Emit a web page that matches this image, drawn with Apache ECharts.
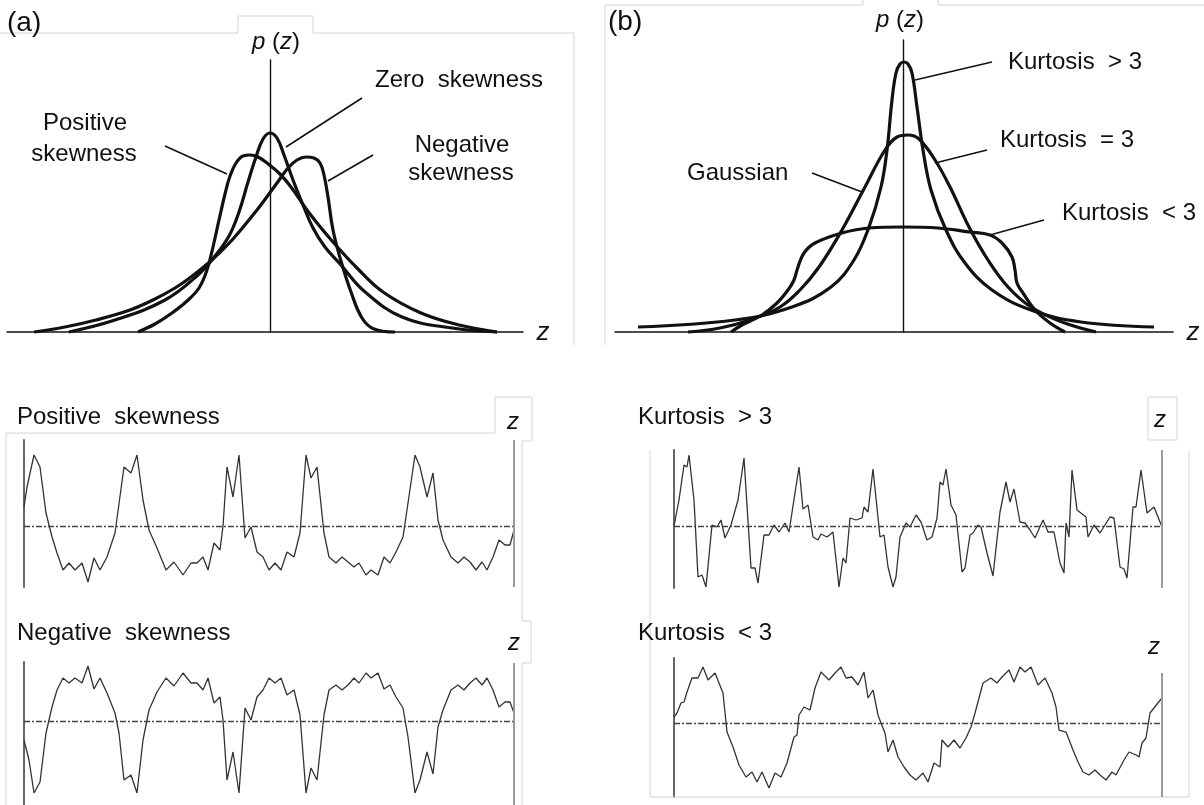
<!DOCTYPE html>
<html>
<head>
<meta charset="utf-8">
<script src="https://cdn.jsdelivr.net/npm/echarts@6.0.0/dist/echarts.min.js"></script>
<style>
  html, body { margin: 0; padding: 0; background: #ffffff; }
  #chart { width: 1204px; height: 805px; }
</style>
</head>
<body>
<div id="chart"></div>
<script>
// ---------- Panel (a): skewed densities, [z offset from the p(z) axis, p(z)] ----------
const zeroSkewPdf = [[-201,0],[-155,12],[-105,32],[-72,57],[-55,76],[-41,96],[-31,120],[-22,150],[-14,175],[-7,193],[0,199],[7,194],[14,177],[23,152],[33,127],[43,104],[55,85],[71,67],[94,41],[132,15],[182,4],[227,0]];
const positiveSkewPdf = [[-132,0],[-115,8],[-98,19],[-83,31],[-71,44],[-63,62],[-57,85],[-51,112],[-45,138],[-40,156],[-34,169],[-27,176],[-20,177],[-12,175],[-3,169],[10,158],[21,145],[40,118],[63,90],[87,64],[113,40],[151,19],[189,7],[227,0]];
const negativeSkewPdf = [[-236,0],[-205,5],[-174,12],[-140,22],[-117,32],[-95,44],[-79,55],[-57,73],[-37,93],[-13,122],[7,149],[18,164],[27,172],[36,175],[44,174],[50,169],[54,157],[58,135],[63,102],[71,71],[81,40],[92,14],[104,3],[125,0]];

// ---------- Panel (b): kurtosis densities ----------
const kurtosisHighPdf = [[-265,5],[-168,12],[-111,25],[-72,45],[-49,72],[-34,105],[-22,145],[-16,182],[-11,232],[-7,259],[-3,268],[1,270],[5,268],[9,259],[14,225],[20,182],[28,142],[43,102],[62,69],[89,42],[128,22],[178,10],[251,5]];
const gaussianPdf = [[-215,0],[-183,4],[-153,12],[-123,25],[-103,42],[-84,65],[-61,102],[-38,145],[-18,182],[-6,195],[5,197],[16,193],[32,172],[47,145],[66,105],[85,72],[105,45],[128,25],[159,10],[193,0]];
const kurtosisLowPdf = [[-172,0],[-161,7],[-141,17],[-126,29],[-115,42],[-109,52],[-105,65],[-99,79],[-88,89],[-61,99],[-34,104],[0,105],[35,104],[66,100],[87,97],[99,89],[109,75],[112,62],[114,49],[120,39],[132,22],[147,9],[162,0]];

// Leader lines joining each label to its curve
const leaderPositive = [[-105,186],[-43,158]];
const leaderZero = [[16,185],[92,234]];
const leaderNegative = [[58,151],[103,177]];
const leaderKurtHigh = [[12,252],[89,270]];
const leaderKurtEqual = [[32,169],[84,182]];
const leaderGaussian = [[-91,159],[-41,140]];
const leaderKurtLow = [[87,97],[141,112]];

// ---------- Sample records z(t) ----------
const positiveSkewSignal = [[0,19],[3,39],[10,71],[16,59],[22,13],[28,-11],[33,-27],[39,-44],[45,-37],[51,-44],[58,-37],[64,-56],[70,-32],[76,-44],[83,-31],[91,-7],[100,59],[107,53],[113,71],[119,26],[125,-4],[133,-22],[142,-44],[150,-36],[159,-49],[167,-37],[173,-37],[179,-31],[184,-44],[190,-17],[196,-24],[199,0],[203,59],[209,29],[215,71],[221,-12],[227,-1],[233,-26],[239,-31],[245,-44],[251,-37],[257,-44],[263,-26],[270,-31],[276,-7],[282,71],[287,48],[293,59],[300,-7],[305,-31],[312,-37],[318,-31],[324,-36],[330,-41],[335,-37],[342,-49],[347,-44],[354,-49],[360,-31],[366,-37],[372,-26],[379,-11],[384,23],[391,71],[396,59],[403,29],[409,53],[414,6],[419,-14],[427,-31],[434,-37],[440,-31],[446,-36],[452,-44],[458,-36],[463,-44],[469,-31],[475,-14],[481,-19],[486,-19],[490,-4]];
const negativeSkewSignal = [[0,-19],[5,-39],[10,-72],[16,-61],[22,-12],[28,14],[33,31],[39,43],[45,38],[51,43],[58,38],[64,55],[70,32],[76,43],[83,28],[91,8],[95,-12],[100,-59],[107,-54],[113,-72],[119,-19],[125,11],[133,29],[142,43],[150,35],[159,48],[167,38],[173,38],[179,31],[184,43],[190,18],[196,24],[199,1],[203,-59],[209,-31],[215,-72],[221,13],[227,1],[233,24],[239,31],[245,43],[251,38],[257,43],[263,26],[270,31],[276,6],[282,-72],[287,-47],[293,-59],[300,6],[305,31],[312,36],[318,31],[324,36],[330,43],[335,38],[342,48],[347,43],[354,48],[360,32],[366,36],[372,24],[379,13],[384,-16],[391,-72],[396,-59],[403,-31],[409,-53],[414,-6],[419,11],[427,31],[434,36],[440,31],[446,38],[452,43],[458,36],[463,43],[469,31],[475,14],[481,19],[486,19],[490,8]];
const kurtosisHighSignal = [[0,0],[5,26],[10,61],[13,59],[15,71],[20,26],[24,-51],[28,-49],[32,-61],[38,1],[43,-1],[47,6],[51,-12],[57,1],[64,26],[70,68],[77,-42],[81,-42],[84,-57],[90,-9],[95,-9],[100,1],[105,-6],[111,3],[115,-6],[125,59],[129,17],[134,21],[139,-11],[144,-14],[147,-8],[153,-11],[159,-6],[165,-61],[169,-32],[172,-37],[176,8],[182,6],[188,8],[190,19],[194,14],[199,57],[206,-11],[210,-9],[214,-41],[219,-61],[222,-51],[226,-11],[232,3],[236,-1],[242,11],[247,4],[253,-14],[258,-11],[263,8],[266,44],[269,41],[272,57],[277,21],[282,11],[288,-46],[291,-42],[296,-9],[299,-7],[304,1],[307,-1],[313,-27],[319,-50],[326,14],[332,44],[336,24],[340,37],[346,4],[351,3],[356,-4],[361,-12],[369,6],[374,-6],[380,-6],[386,-37],[390,-47],[392,3],[395,-11],[398,56],[403,16],[412,9],[414,-11],[420,1],[426,-7],[436,9],[440,8],[446,-41],[450,-43],[453,-52],[459,19],[462,19],[467,56],[473,13],[480,19],[488,-1]];
const kurtosisLowSignal = [[0,6],[3,10],[7,20],[10,21],[13,31],[18,45],[24,45],[29,56],[34,43],[41,50],[49,30],[53,-9],[59,-24],[65,-42],[72,-54],[78,-49],[83,-59],[88,-49],[95,-65],[101,-50],[107,-54],[113,-40],[115,-40],[120,-14],[123,-12],[125,8],[130,16],[136,13],[141,35],[147,51],[155,43],[161,50],[167,56],[172,45],[178,46],[184,38],[190,51],[194,25],[199,33],[204,8],[207,0],[211,-10],[214,-29],[219,-17],[224,-34],[230,-44],[236,-52],[242,-57],[249,-50],[254,-59],[260,-40],[266,-44],[268,-17],[274,-24],[280,-17],[286,-25],[292,-15],[297,-4],[301,10],[309,40],[317,45],[323,40],[328,46],[335,53],[340,41],[346,56],[351,51],[357,56],[364,38],[371,45],[378,30],[382,16],[385,-7],[392,-9],[399,-27],[404,-39],[409,-49],[415,-52],[421,-47],[426,-52],[432,-57],[438,-49],[442,-52],[450,-37],[455,-29],[462,-32],[465,-34],[468,-20],[472,-15],[476,10],[480,15],[487,24]];

// Panel text
const panelTags = ['(a)', '(b)'];
const recordTitles = ['Positive  skewness', 'Negative  skewness', 'Kurtosis  > 3', 'Kurtosis  < 3'];

const FONT = '"Liberation Sans", Arial, Helvetica, sans-serif';
const INK = '#111111';

const chart = echarts.init(document.getElementById('chart'), null, { renderer: 'canvas' });

function hiddenBits() {
  return { axisTick: { show: false }, axisLabel: { show: false }, splitLine: { show: false } };
}
function densityXAxis(gi, min, max) {
  return Object.assign({ type: 'value', gridIndex: gi, min: min, max: max,
    axisLine: { show: true, onZero: true, lineStyle: { color: INK, width: 1.6 } } }, hiddenBits());
}
function densityYAxis(gi, max) {
  return Object.assign({ type: 'value', gridIndex: gi, min: 0, max: max,
    axisLine: { show: true, onZero: true, lineStyle: { color: INK, width: 1.4 } } }, hiddenBits());
}
function recordXAxis(gi, max) {
  return Object.assign({ type: 'value', gridIndex: gi, min: 0, max: max, axisLine: { show: false } }, hiddenBits());
}
function recordYAxis(gi, min, max) {
  return Object.assign({ type: 'value', gridIndex: gi, min: min, max: max,
    axisLine: { show: true, onZero: false, lineStyle: { color: '#555', width: 1.8 } } }, hiddenBits());
}
function pdfSeries(idx, data) {
  return { type: 'line', xAxisIndex: idx, yAxisIndex: idx, data: data, smooth: 0.4, showSymbol: false,
    clip: false, lineStyle: { color: INK, width: 3.2 }, silent: true };
}
function leaderSeries(idx, data) {
  return { type: 'line', xAxisIndex: idx, yAxisIndex: idx, data: data, showSymbol: false,
    clip: false, lineStyle: { color: INK, width: 1.6 }, silent: true };
}
function recordSeries(idx, data, tEnd, rightTop, vMin) {
  return { type: 'line', xAxisIndex: idx, yAxisIndex: idx, data: data, showSymbol: false, silent: true,
    lineStyle: { color: '#333', width: 1.3 },
    markLine: { silent: true, symbol: 'none', label: { show: false }, animation: false,
      data: [
        { yAxis: 0, lineStyle: { type: [6, 2, 2, 2], color: '#444', width: 1.4 } },
        [ { coord: [tEnd, rightTop], lineStyle: { type: 'solid', color: '#9a9a9a', width: 2 } }, { coord: [tEnd, vMin] } ]
      ] } };
}

function txt(x, y, text, size, opts) {
  opts = opts || {};
  const align = opts.align || 'left';
  const style = { text: text, font: (opts.italic ? 'italic ' : '') + size + 'px ' + FONT, fill: INK,
    align: align, textAlign: align, verticalAlign: 'middle', textVerticalAlign: 'middle' };
  if (opts.rich) style.rich = opts.rich;
  return { type: 'text', x: x, y: y, style: style, silent: true, z: 10 };
}
const italicRich = { i: { fontStyle: 'italic', fontSize: 24, fontFamily: FONT, fill: INK } };
function frame(points) {
  return { type: 'polyline', shape: { points: points }, style: { stroke: '#d4d4d4', lineWidth: 1, fill: null }, silent: true, z: 1 };
}

const option = {
  animation: false,
  backgroundColor: '#ffffff',
  grid: [
    { left: 7, top: 60, width: 516, height: 272 },
    { left: 615, top: 40, width: 558, height: 292 },
    { left: 24, top: 440, width: 490, height: 147 },
    { left: 24, top: 662, width: 490, height: 143 },
    { left: 674, top: 450, width: 488, height: 138 },
    { left: 674, top: 658, width: 488, height: 139 }
  ],
  xAxis: [
    densityXAxis(0, -263, 253),
    densityXAxis(1, -288, 270),
    recordXAxis(2, 490),
    recordXAxis(3, 490),
    recordXAxis(4, 488),
    recordXAxis(5, 488)
  ],
  yAxis: [
    densityYAxis(0, 272),
    densityYAxis(1, 292),
    recordYAxis(2, -61, 86),
    recordYAxis(3, -84, 59),
    recordYAxis(4, -62, 76),
    recordYAxis(5, -74, 65)
  ],
  series: [
    pdfSeries(0, zeroSkewPdf),
    pdfSeries(0, positiveSkewPdf),
    pdfSeries(0, negativeSkewPdf),
    leaderSeries(0, leaderPositive),
    leaderSeries(0, leaderZero),
    leaderSeries(0, leaderNegative),
    pdfSeries(1, kurtosisHighPdf),
    pdfSeries(1, gaussianPdf),
    pdfSeries(1, kurtosisLowPdf),
    leaderSeries(1, leaderKurtHigh),
    leaderSeries(1, leaderKurtEqual),
    leaderSeries(1, leaderGaussian),
    leaderSeries(1, leaderKurtLow),
    recordSeries(2, positiveSkewSignal, 490, 86, -61),
    recordSeries(3, negativeSkewSignal, 490, 58, -84),
    recordSeries(4, kurtosisHighSignal, 488, 76, -62),
    recordSeries(5, kurtosisLowSignal, 488, 50, -74)
  ],
  graphic: { elements: [
    // light panel outlines
    frame([[0,33],[238,33],[238,16],[313,16],[313,33],[574,33],[574,345]]),
    frame([[605,345],[605,5],[863,5],[863,0]]),
    frame([[938,0],[938,5],[1204,5]]),
    frame([[6,805],[6,433],[495,433],[495,397],[532,397],[532,441],[522,441],[522,621],[531,621],[531,663],[522,663],[522,805]]),
    frame([[1148,440],[1148,397],[1177,397],[1177,440],[1148,440]]),
    frame([[1189,450],[1189,797],[650,797],[650,450]]),

    // panel (a)
    txt(7, 23, panelTags[0], 28),
    txt(276, 42, '{i|p} ({i|z})', 24, { align: 'center', rich: italicRich }),
    txt(543, 333, 'z', 26, { align: 'center', italic: true }),
    txt(85, 123, 'Positive', 24, { align: 'center' }),
    txt(84, 154, 'skewness', 24, { align: 'center' }),
    txt(375, 80, 'Zero  skewness', 24),
    txt(462, 145, 'Negative', 24, { align: 'center' }),
    txt(461, 173, 'skewness', 24, { align: 'center' }),

    // panel (b)
    txt(608, 22, panelTags[1], 28),
    txt(900, 20, '{i|p} ({i|z})', 24, { align: 'center', rich: italicRich }),
    txt(1193, 333, 'z', 26, { align: 'center', italic: true }),
    txt(1008, 62, 'Kurtosis  > 3', 24),
    txt(1000, 140, 'Kurtosis  = 3', 24),
    txt(687, 173, 'Gaussian', 24),
    txt(1062, 213, 'Kurtosis  < 3', 24),

    // sample records
    txt(17, 417, recordTitles[0], 24),
    txt(513, 422, 'z', 24, { align: 'center', italic: true }),
    txt(17, 633, recordTitles[1], 24),
    txt(514, 643, 'z', 24, { align: 'center', italic: true }),
    txt(638, 417, recordTitles[2], 24),
    txt(1160, 420, 'z', 24, { align: 'center', italic: true }),
    txt(638, 633, recordTitles[3], 24),
    txt(1154, 647, 'z', 24, { align: 'center', italic: true })
  ] }
};

chart.setOption(option);
</script>
</body>
</html>
